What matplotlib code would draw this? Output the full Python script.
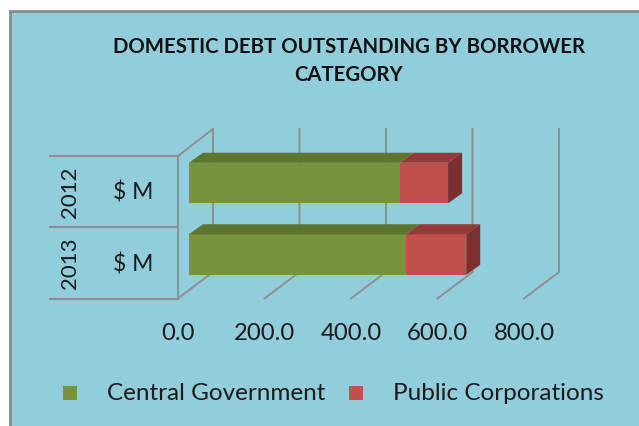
from __future__ import annotations

import matplotlib

matplotlib.use("Agg")
import matplotlib.pyplot as plt
from matplotlib.patches import Polygon, Rectangle

categories = ["2013", "2012"]
unit_labels = ["$ M", "$ M"]
central_government = [502.0, 488.0]
public_corporations = [139.0, 111.0]
x_ticks = [0, 200, 400, 600, 800]
title_lines = ["DOMESTIC DEBT OUTSTANDING BY BORROWER", "CATEGORY"]

W, H = 639, 426
PX_PER_VALUE = 0.4325
PX_PER_CAT = 71.5
X0_PX = 189
Y0_PX = 254.5

BG = "#92CDDC"
GRID = "#8F8F8F"
GREEN = ("#77933C", "#5E7530")
RED = ("#C0504D", "#943A38", "#7A302E")
FONT = "Lato"
TEXT = "#1A1A1A"


def dx(px):
    return px / PX_PER_VALUE


def dy(px):
    return px / PX_PER_CAT


fig = plt.figure(figsize=(W / 100, H / 100), dpi=100, facecolor="white")
ax = fig.add_axes([0, 0, 1, 1])
ax.set_xlim(-dx(X0_PX), dx(W - X0_PX))
ax.set_ylim(-dy(H - Y0_PX), dy(Y0_PX))
ax.axis("off")

# chart area, runs off the right and bottom edge
ax.add_patch(Rectangle((-dx(X0_PX - 9.5), -dy(H + 20 - Y0_PX)), dx(W + 20), dy(H + 9),
                       facecolor=BG, edgecolor="#8A8A8A", linewidth=2))

floor_front = -dy(298.5 - Y0_PX)
floor_back = -dy(272 - Y0_PX)
wall_top = dy(Y0_PX - 129)
wall_front_top = dy(Y0_PX - 156)
front_off = -dx(11)
back_off = dx(24)

# walls and gridlines
for t in x_ticks:
    ax.plot([t + front_off, t + back_off, t + back_off], [floor_front, floor_back, wall_top],
            color=GRID, lw=1.4, zorder=1, solid_joinstyle="miter")
    ax.text(t + front_off, -dy(334 - Y0_PX), f"{t:.1f}", ha="center", va="center",
            fontsize=17.2, family=FONT, color=TEXT)
ax.plot([front_off, front_off, back_off], [floor_front, wall_front_top, wall_top],
        color=GRID, lw=1.4, zorder=1)

# category boxes on the left
for y in [floor_front, (floor_front + wall_front_top) / 2, wall_front_top]:
    ax.plot([-dx(X0_PX - 50), front_off], [y, y], color=GRID, lw=1.6, zorder=1)
for i, cat in enumerate(categories):
    ax.text(-dx(X0_PX - 70), i - dy(9), cat, rotation=90, ha="center", va="center",
            fontsize=16, family=FONT, color=TEXT)
    ax.text(-dx(X0_PX - 133), i - dy(9.5), unit_labels[i], ha="center", va="center",
            fontsize=16.5, family=FONT, color=TEXT)

# stacked 3d bars
bar_h = dy(40.5)
depth_x, depth_y = dx(14), dy(10)
ypos = list(range(len(categories)))
ax.barh(ypos, central_government, height=bar_h, color=GREEN[0], zorder=3)
ax.barh(ypos, public_corporations, left=central_government, height=bar_h, color=RED[0], zorder=3)
for i in ypos:
    a = central_government[i]
    b = a + public_corporations[i]
    top = i + bar_h / 2
    bot = i - bar_h / 2
    ax.add_patch(Polygon([(0, top), (a, top), (a + depth_x, top + depth_y), (depth_x, top + depth_y)],
                         facecolor=GREEN[1], edgecolor="none", zorder=3))
    ax.add_patch(Polygon([(a, top), (b, top), (b + depth_x, top + depth_y), (a + depth_x, top + depth_y)],
                         facecolor=RED[1], edgecolor="none", zorder=3))
    ax.add_patch(Polygon([(b, top), (b + depth_x, top + depth_y), (b + depth_x, bot + depth_y), (b, bot)],
                         facecolor=RED[2], edgecolor="none", zorder=3))

# title
for line, ypx in zip(title_lines, [47, 75]):
    ax.text(dx(349 - X0_PX), -dy(ypx - Y0_PX), line, ha="center", va="center",
            fontsize=14.7, fontweight="bold", family=FONT, color="#111111")

# legend
legend_y = -dy(393.5 - Y0_PX)
for name, color, box_px, text_px in [("Central Government", GREEN[0], 63, 107),
                                     ("Public Corporations", RED[0], 349, 393)]:
    ax.add_patch(Rectangle((dx(box_px - X0_PX), legend_y - dy(7)), dx(14), dy(14), facecolor=color))
    ax.text(dx(text_px - X0_PX), legend_y, name, ha="left", va="center",
            fontsize=17.5, family=FONT, color=TEXT)

fig.savefig("out.png", dpi=100, facecolor="white")
